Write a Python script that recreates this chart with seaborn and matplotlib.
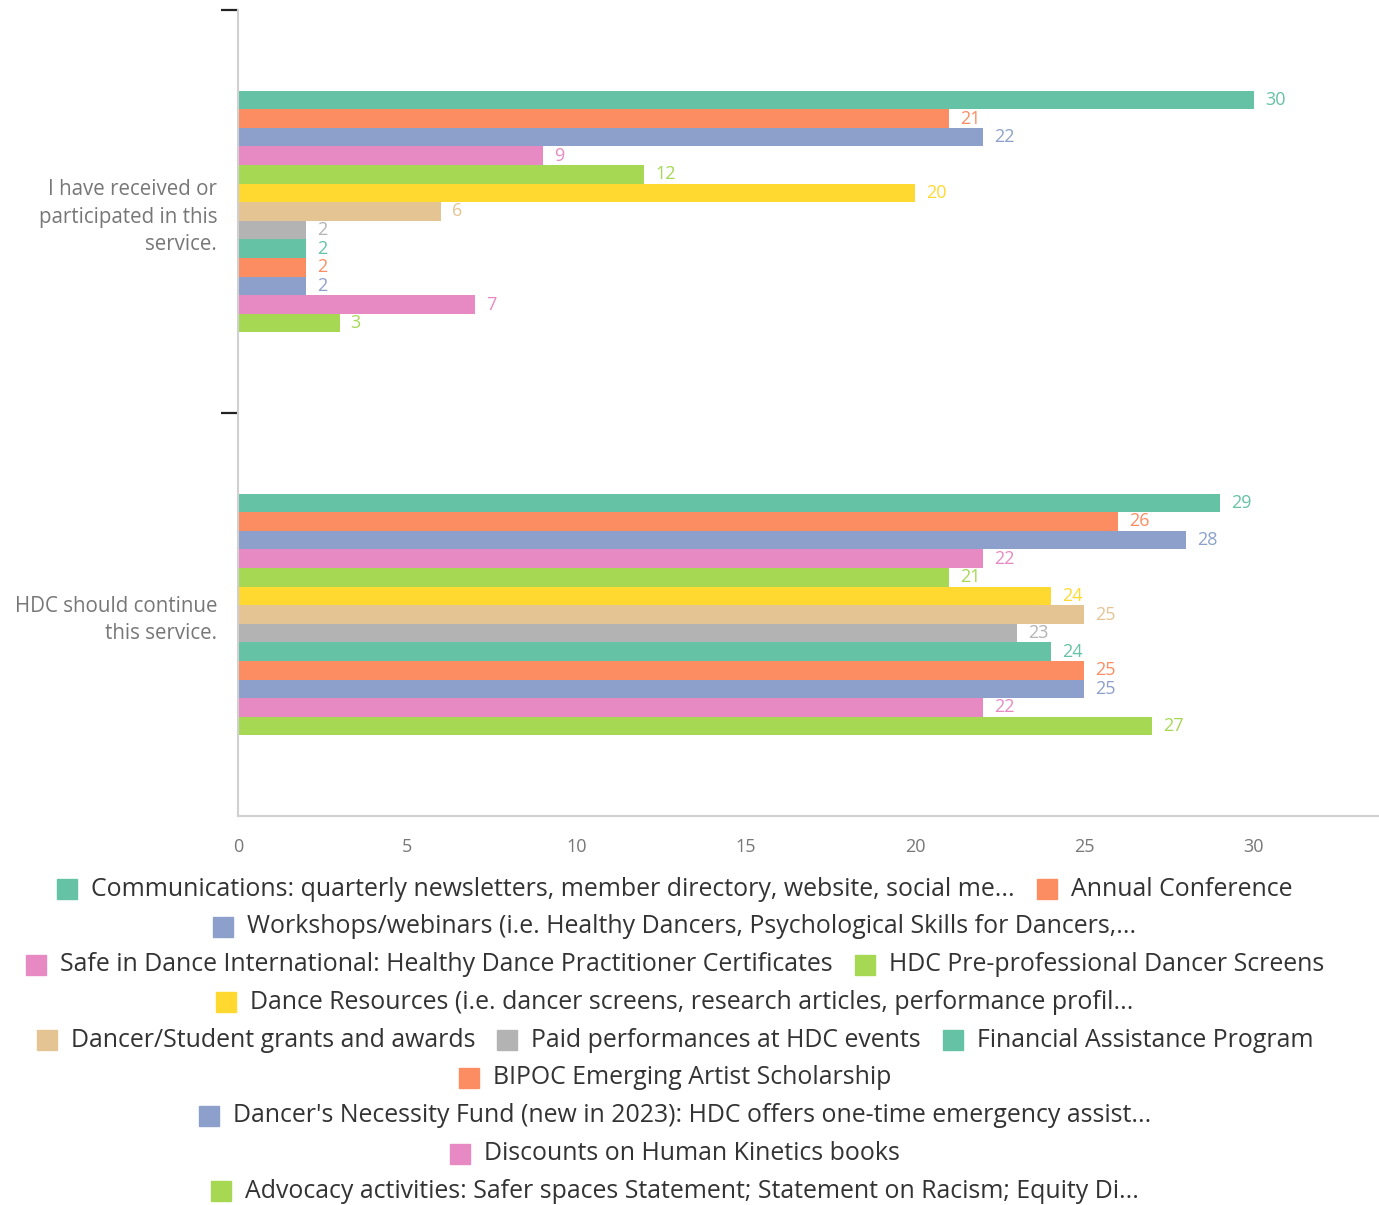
import seaborn as sns
import matplotlib.pyplot as plt
import matplotlib.patches as mpatches
import pandas as pd

# data
categories = ["I have received or\nparticipated in this\nservice.",
              "HDC should continue\nthis service."]
services = [
    "Communications: quarterly newsletters, member directory, website, social me...",
    "Annual Conference",
    "Workshops/webinars (i.e. Healthy Dancers, Psychological Skills for Dancers,...",
    "Safe in Dance International: Healthy Dance Practitioner Certificates",
    "HDC Pre-professional Dancer Screens",
    "Dance Resources (i.e. dancer screens, research articles, performance profil...",
    "Dancer/Student grants and awards",
    "Paid performances at HDC events",
    "Financial Assistance Program",
    "BIPOC Emerging Artist Scholarship",
    "Dancer's Necessity Fund (new in 2023): HDC offers one-time emergency assist...",
    "Discounts on Human Kinetics books",
    "Advocacy activities: Safer spaces Statement; Statement on Racism; Equity Di...",
]
received = [30, 21, 22, 9, 12, 20, 6, 2, 2, 2, 2, 7, 3]
continue_ = [29, 26, 28, 22, 21, 24, 25, 23, 24, 25, 25, 22, 27]
x_ticks = [0, 5, 10, 15, 20, 25, 30]

# legend rows as laid out in the reference
legend_rows = [[0, 1], [2], [3, 4], [5], [6, 7, 8], [9], [10], [11], [12]]

set2 = sns.color_palette("Set2", 8)
colors = [set2[i % 8] for i in range(len(services))]

df = pd.DataFrame({
    "category": [categories[0]] * len(services) + [categories[1]] * len(services),
    "service": services + services,
    "count": received + continue_,
})

sns.set_style("white")
plt.rcParams['font.family'] = ['Open Sans', 'DejaVu Sans']

W, H = 1379, 1205
fig = plt.figure(figsize=(W / 100, H / 100), dpi=100)
ax = fig.add_axes([238 / W, 1 - 816 / H, 1 - 238 / W, (816 - 10) / H])

sns.barplot(data=df, y="category", x="count", hue="service", hue_order=services,
            palette=colors, orient="h", width=0.6, legend=False, ax=ax,
            saturation=1, linewidth=0)

for cont, c in zip(ax.containers, colors):
    ax.bar_label(cont, padding=8, color=c, fontsize=13)

ax.set_xlim(0, 33.7)
ax.set_ylim(1.5, -0.5)
ax.set_xticks(x_ticks)
ax.set_xlabel("")
ax.set_ylabel("")
ax.tick_params(axis="x", colors="#777777", labelsize=13, length=0, pad=16)
ax.tick_params(axis="y", which="major", length=0, labelcolor="#777777",
               labelsize=14.8, pad=15)
ax.set_yticks([-0.5, 0.5], minor=True)
ax.tick_params(axis="y", which="minor", left=True, length=12, width=1.6,
               color="#222222")
for lab in ax.get_yticklabels():
    lab.set_horizontalalignment("right")
    lab.set_linespacing(1.4)

for s in ["top", "right"]:
    ax.spines[s].set_visible(False)
for s in ["left", "bottom"]:
    ax.spines[s].set_color("#d0d0d0")
    ax.spines[s].set_linewidth(1.5)

# manual centred legend
renderer = fig.canvas.get_renderer()
center_x = 675
row_y0 = 889
row_step = 37.8
box = 20
gap_text = 14
gap_item = 22
for r, row in enumerate(legend_rows):
    y = row_y0 + r * row_step
    texts = []
    widths = []
    for i in row:
        t = fig.text(0, 1 - y / H, services[i], fontsize=17.9, color="#333333",
                     va="center", ha="left")
        w = t.get_window_extent(renderer).width
        texts.append(t)
        widths.append(w)
    total = sum(box + gap_text + w for w in widths) + gap_item * (len(row) - 1)
    x = center_x - total / 2
    for i, t, w in zip(row, texts, widths):
        fig.patches.append(mpatches.Rectangle(
            (x / W, 1 - (y + box / 2) / H), box / W, box / H,
            transform=fig.transFigure, color=colors[i], figure=fig))
        t.set_x((x + box + gap_text) / W)
        x += box + gap_text + w + gap_item

fig.savefig("out.png", dpi=100)
